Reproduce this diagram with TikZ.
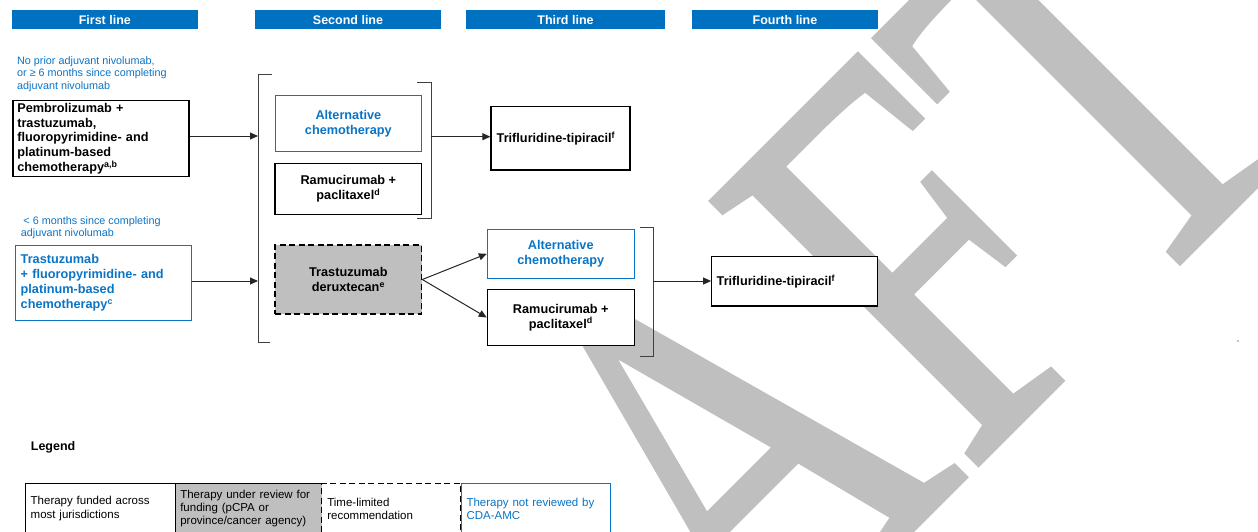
\documentclass[tikz,border=0pt]{standalone}
\usepackage{fontspec}
\setmainfont{Liberation Sans}
\newfontfamily\wmfont[Kerning=Off,FakeBold=1]{Liberation Serif}
\usetikzlibrary{arrows.meta,calc}
\definecolor{hdrblue}{HTML}{0070C0}
\definecolor{txtblue}{HTML}{0A74C6}
\definecolor{wmgray}{HTML}{BFBFBF}
\definecolor{boxgray}{HTML}{BFBFBF}
\definecolor{linegray}{HTML}{404040}
\definecolor{arrgray}{HTML}{262626}
\begin{document}
\begin{tikzpicture}[x=1pt,y=-1pt,
  hdr/.style={fill=hdrblue, text=white, font=\fontsize{12.5}{14}\selectfont\bfseries, minimum height=19.2pt, inner sep=0pt},
  bx/.style={draw=black, line width=1.2pt, fill=white, font=\fontsize{12.7}{15}\selectfont\bfseries, inner xsep=0pt, inner ysep=0pt, align=center},
  bluebx/.style={bx, draw=txtblue, line width=1pt, text=txtblue},
  dashbx/.style={bx, fill=boxgray, dash pattern=on 6pt off 3.5pt},
  lbl/.style={text=txtblue, font=\fontsize{10.8}{12.5}\selectfont, align=left, inner sep=0pt},
  cell/.style={font=\fontsize{11.5}{13.2}\selectfont, align=left, minimum height=50pt, inner ysep=0pt, line width=1pt},
  brk/.style={draw=linegray, line width=1pt},
  arr/.style={draw=arrgray, line width=1pt, -{Triangle[length=8pt,width=7pt]}},
]
\useasboundingbox (0,0) rectangle (1258,531);
% watermark
\begin{scope}
  \clip (0,0) rectangle (1258,531);
  \node[rotate=45, anchor=base west, inner sep=0pt, outer sep=0pt, text=wmgray,
        font=\wmfont\fontsize{571}{571}\selectfont] (wm) at (336.7,1105.3) {\scalebox{0.74}[1]{DRAFT}};
\end{scope}
% headers
\node[hdr, minimum width=186.3pt] (h1) at (104.85,19.6) {First line};
\node[hdr, minimum width=186pt] (h2) at (348,19.6) {Second line};
\node[hdr, minimum width=199pt] (h3) at (565.5,19.6) {Third line};
\node[hdr, minimum width=186pt] (h4) at (785,19.6) {Fourth line};
% labels
\node[lbl, anchor=north west] (l1) at (17,56) {No prior adjuvant nivolumab,\\or ≥ 6 months since completing\\adjuvant nivolumab};
\node[lbl, anchor=north west] (l2) at (20.7,216.1) {\hspace*{2.6pt}< 6 months since completing\\adjuvant nivolumab};
% first line boxes
\node[bx, font=\fontsize{12.7}{14.75}\selectfont\bfseries, align=left, minimum width=176pt, minimum height=76pt, text width=167.4pt, inner xsep=4.3pt] (b1) at (101,138.7)
  {Pembrolizumab +\\trastuzumab,\\fluoropyrimidine- and\\platinum-based\\chemotherapy\textsuperscript{a,b}};
\node[bluebx, align=left, minimum width=176.7pt, minimum height=75.7pt, text width=165.3pt, inner xsep=5.7pt] (b2) at (103.35,282.85)
  {Trastuzumab\\+ fluoropyrimidine- and\\platinum-based\\chemotherapy\textsuperscript{c}};
% second line
\node[bluebx, minimum width=146.7pt, minimum height=55.7pt] (alt1) at (348.35,123.5) {Alternative\\chemotherapy};
\node[bx, minimum width=146.7pt, minimum height=51pt] (ram1) at (348.35,188.8) {Ramucirumab +\\paclitaxel\textsuperscript{d}};
\node[dashbx, minimum width=146.7pt, minimum height=69pt] (dx) at (348.35,279.5) {Trastuzumab\\deruxtecan\textsuperscript{e}};
% third line
\node[bx, align=left, minimum width=139pt, minimum height=63.3pt, text width=127.6pt, inner xsep=5.7pt] (tri1) at (560.5,138.35) {Trifluridine-tipiracil\textsuperscript{f}};
\node[bluebx, minimum width=147pt, minimum height=49pt] (alt2) at (560.8,253.8) {Alternative\\chemotherapy};
\node[bx, minimum width=147pt, minimum height=56.4pt] (ram2) at (560.8,317.5) {Ramucirumab +\\paclitaxel\textsuperscript{d}};
% fourth line
\node[bx, align=left, minimum width=166pt, minimum height=49.3pt, text width=156pt, inner xsep=5pt] (tri2) at (794.7,281.35) {Trifluridine-tipiracil\textsuperscript{f}};
% brackets
\coordinate (k1a) at (272,74);
\coordinate (k1b) at (258,74);
\coordinate (k1c) at (258,342.7);
\coordinate (k1d) at (270,342.7);
\draw[brk] (k1a) -- (k1b) -- (k1c) -- (k1d);
\coordinate (k2a) at (417,82.7);
\coordinate (k2b) at (431,82.7);
\coordinate (k2c) at (431,218.3);
\coordinate (k2d) at (417,218.3);
\draw[brk] (k2a) -- (k2b) -- (k2c) -- (k2d);
\coordinate (k3a) at (640,227.3);
\coordinate (k3b) at (653.3,227.3);
\coordinate (k3c) at (653.3,356);
\coordinate (k3d) at (640,356);
\draw[brk] (k3a) -- (k3b) -- (k3c) -- (k3d);
% arrows
\coordinate (t1) at (258,136);
\coordinate (t2) at (258,281);
\coordinate (s3) at (431,136.7);
\coordinate (s4) at (653.3,281);
\draw[arr] (b1.east |- t1) -- (t1);
\draw[arr] (b2.east |- t2) -- (t2);
\draw[arr] (s3) -- (tri1.west |- s3);
\draw[arr] (dx.east) -- (alt2.west);
\draw[arr] (dx.east) -- (ram2.west);
\draw[arr] (s4) -- (tri2.west |- s4);
% legend
\node[font=\fontsize{12.5}{14}\selectfont\bfseries, anchor=base west, inner sep=0pt] (lg) at (30.7,450.7) {Legend};
\node[cell, draw=black, fill=white, minimum width=150.2pt, text width=139.4pt, inner xsep=5.4pt] (c1) at (100.4,508.5) {Therapy funded across\\most jurisdictions};
\node[cell, fill=boxgray, minimum width=146.1pt, text width=136.5pt, inner xsep=4.8pt] (c2) at (248.55,508.5) {Therapy under review for\\funding (pCPA or\\province/cancer agency)};
\draw[line width=1pt] (c2.south west) -- (c2.north west) -- (c2.north east);
\node[cell, draw=black, fill=white, dash pattern=on 6pt off 3.5pt, minimum width=139pt, text width=127.6pt, inner xsep=5.7pt] (c3) at (391.1,508.5) {Time-limited\\recommendation};
\node[cell, draw=txtblue, text=txtblue, fill=white, minimum width=149.2pt, text width=139.2pt, inner xsep=5pt] (c4) at (536.1,508.5) {Therapy not reviewed by\\CDA-AMC};
\coordinate (dot) at (1238,341);
\fill[black] (dot) circle[radius=0.6pt];
\end{tikzpicture}
\end{document}
